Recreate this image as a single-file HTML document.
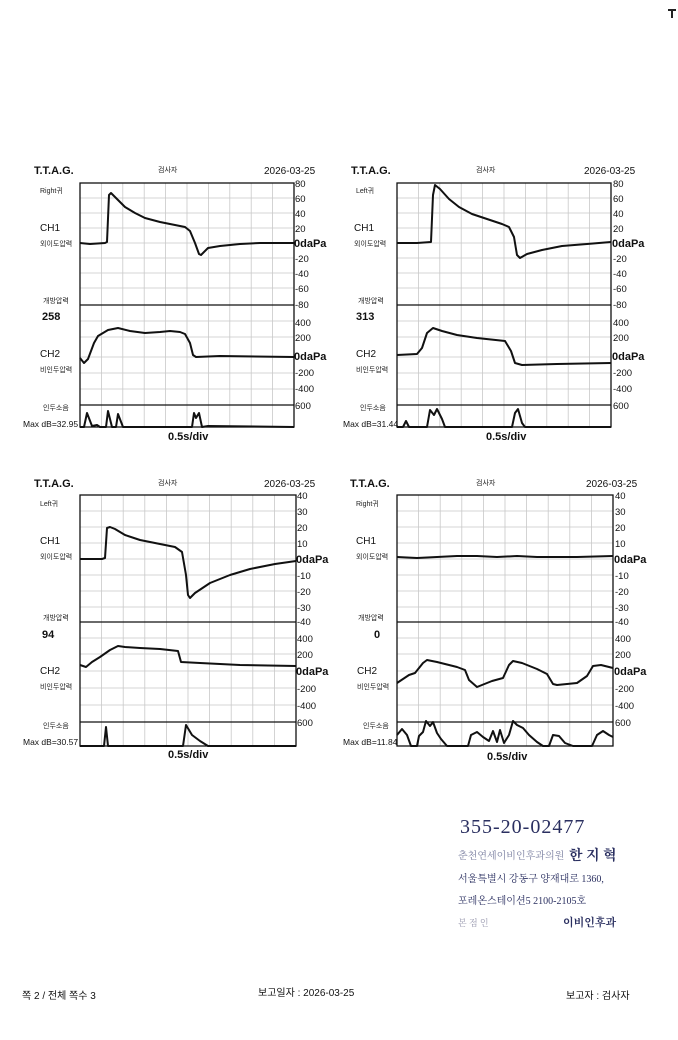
<!DOCTYPE html>
<html><head><meta charset="utf-8"><style>
body{margin:0;background:#fff;}
svg{display:block;font-family:"Liberation Sans","Noto Sans CJK KR",sans-serif;}
.g{stroke:#c8c8c8;stroke-width:0.8;fill:none}
.b{stroke:#111;stroke-width:1.3;fill:none}
.t{stroke:#111;stroke-width:2;fill:none;stroke-linejoin:round}
.s{font-size:10px;fill:#111}
.h{font-size:11px;font-weight:bold;fill:#111}
.k{font-size:7px;fill:#222}
.m{font-size:8.5px;fill:#111}
</style></head><body>
<svg width="678" height="1040" viewBox="0 0 678 1040">
<defs>
<g id="gridA">
<path class="g" d="M21.4 0V244M42.8 0V244M64.2 0V244M85.6 0V244M107 0V244M128.4 0V244M149.8 0V244M171.2 0V244M192.6 0V244"/>
<path class="g" d="M0 15H214M0 30H214M0 45H214M0 60H214M0 75H214M0 90H214M0 105H214M0 138H214M0 154H214M0 174H214M0 190H214M0 206H214"/>
<rect class="b" x="0" y="0" width="214" height="244"/>
<path class="b" d="M0 122H214M0 222H214"/>
</g>
<g id="gridB">
<path class="g" d="M21.6 0V251M43.2 0V251M64.8 0V251M86.4 0V251M108 0V251M129.6 0V251M151.2 0V251M172.8 0V251M194.4 0V251"/>
<path class="g" d="M0 16H216M0 32H216M0 48H216M0 64H216M0 80H216M0 96H216M0 112H216M0 143H216M0 159H216M0 176H216M0 193H216M0 210H216"/>
<rect class="b" x="0" y="0" width="216" height="251"/>
<path class="b" d="M0 127H216M0 227H216"/>
</g>
</defs>

<g transform="translate(80,183)">
<use href="#gridA"/>
<path class="t" d="M0 60 L10 61 L25 60 L27 59 L29 12 L31 10 L36 15 L45 24 L55 30 L65 35 L80 39 L95 42 L105 44 L110 48 L115 60 L119 71 L121 72 L128 65 L140 63 L160 61 L180 60 L214 60"/>
<path class="t" d="M0 175 L4 180 L8 176 L14 160 L18 153 L28 147 L38 145 L50 148 L65 150 L80 149 L90 148 L100 149 L105 151 L110 160 L113 172 L116 174 L140 173 L214 174"/>
<path class="t" d="M0 244 L4 244 L7 230 L12 243 L17 242 L20 244 L26 244 L28 228 L32 244 L36 244 L38 231 L43 244 L112 244 L114 230 L116 235 L119 230 L122 244 L128 243 L214 244"/>
</g>
<g transform="translate(397,183)">
<use href="#gridA"/>
<path class="t" d="M0 60 L20 60 L34 59 L36 12 L38 2 L43 6 L52 16 L62 24 L75 31 L90 36 L105 41 L112 44 L117 54 L120 72 L123 75 L130 71 L145 67 L165 63 L190 61 L214 59"/>
<path class="t" d="M0 172 L20 171 L25 165 L30 150 L36 145 L45 148 L60 152 L80 155 L108 158 L114 168 L118 180 L125 182 L160 181 L214 180"/>
<path class="t" d="M0 244 L6 244 L9 238 L12 244 L30 244 L33 227 L37 232 L40 226 L45 236 L48 244 L115 244 L118 230 L121 226 L125 240 L128 244 L214 244"/>
</g>
<g transform="translate(80,495)">
<use href="#gridB"/>
<path class="t" d="M0 64 L22 64 L25 63 L27 33 L30 32 L35 34 L45 40 L60 45 L80 49 L95 52 L102 57 L106 80 L108 100 L110 103 L115 98 L130 88 L150 80 L170 74 L195 69 L216 66"/>
<path class="t" d="M0 170 L6 172 L12 167 L20 162 L30 155 L38 151 L45 152 L60 153 L80 154 L98 156 L101 167 L120 168 L160 170 L216 171"/>
<path class="t" d="M0 251 L24 251 L26 232 L28 251 L103 251 L106 230 L112 240 L120 246 L128 251 L216 251"/>
</g>
<g transform="translate(397,495)">
<use href="#gridB"/>
<path class="t" d="M0 62 L20 63 L40 62 L60 61 L80 61 L100 62 L120 61 L140 62 L160 62 L180 62 L216 61"/>
<path class="t" d="M0 188 L12 180 L18 178 L26 168 L30 165 L40 167 L60 172 L68 175 L72 185 L80 192 L95 186 L106 183 L112 170 L116 166 L125 168 L140 174 L150 179 L156 189 L160 190 L180 188 L190 181 L196 171 L204 170 L216 173"/>
<path class="t" d="M0 240 L5 234 L10 240 L14 251 L20 251 L22 241 L26 237 L29 226 L33 231 L36 227 L40 238 L44 244 L50 251 L71 251 L74 240 L80 237 L86 242 L92 246 L96 236 L100 247 L103 235 L107 248 L112 240 L116 226 L120 230 L126 233 L132 240 L140 247 L146 251 L152 251 L156 240 L162 241 L168 248 L176 251 L195 251 L200 240 L206 236 L212 240 L216 242"/>
</g>

<g>
<text class="h" x="34" y="174">T.T.A.G.</text><text class="k" x="158" y="172">검사자</text><text class="s" x="264" y="174">2026-03-25</text>
<text class="k" x="40" y="193">Right귀</text><text class="s" x="40" y="231">CH1</text><text class="k" x="40" y="246">외이도압력</text>
<text class="k" x="43" y="303">개방압력</text><text class="h" x="42" y="320">258</text>
<text class="s" x="40" y="357">CH2</text><text class="k" x="40" y="372">비인두압력</text>
<text class="k" x="43" y="410">인두소음</text><text class="m" x="23" y="427">Max dB=32.95</text>
<text class="h" x="168" y="440">0.5s/div</text>
<g class="s" style="font-size:9.5px"><text x="295" y="187">80</text><text x="295" y="202">60</text><text x="295" y="217">40</text><text x="295" y="232">20</text><text x="294" y="247" style="font-size:11px;font-weight:bold">0daPa</text><text x="295" y="262">-20</text><text x="295" y="277">-40</text><text x="295" y="292">-60</text><text x="295" y="308">-80</text><text x="295" y="326">400</text><text x="295" y="341">200</text><text x="294" y="360" style="font-size:11px;font-weight:bold">0daPa</text><text x="295" y="376">-200</text><text x="295" y="392">-400</text><text x="295" y="409">600</text></g>
</g>
<g>
<text class="h" x="351" y="174">T.T.A.G.</text><text class="k" x="476" y="172">검사자</text><text class="s" x="584" y="174">2026-03-25</text>
<text class="k" x="356" y="193">Left귀</text><text class="s" x="354" y="231">CH1</text><text class="k" x="354" y="246">외이도압력</text>
<text class="k" x="358" y="303">개방압력</text><text class="h" x="356" y="320">313</text>
<text class="s" x="356" y="357">CH2</text><text class="k" x="356" y="372">비인두압력</text>
<text class="k" x="360" y="410">인두소음</text><text class="m" x="343" y="427">Max dB=31.44</text>
<text class="h" x="486" y="440">0.5s/div</text>
<g class="s" style="font-size:9.5px"><text x="613" y="187">80</text><text x="613" y="202">60</text><text x="613" y="217">40</text><text x="613" y="232">20</text><text x="612" y="247" style="font-size:11px;font-weight:bold">0daPa</text><text x="613" y="262">-20</text><text x="613" y="277">-40</text><text x="613" y="292">-60</text><text x="613" y="308">-80</text><text x="613" y="326">400</text><text x="613" y="341">200</text><text x="612" y="360" style="font-size:11px;font-weight:bold">0daPa</text><text x="613" y="376">-200</text><text x="613" y="392">-400</text><text x="613" y="409">600</text></g>
</g>
<g>
<text class="h" x="34" y="487">T.T.A.G.</text><text class="k" x="158" y="485">검사자</text><text class="s" x="264" y="487">2026-03-25</text>
<text class="k" x="40" y="506">Left귀</text><text class="s" x="40" y="544">CH1</text><text class="k" x="40" y="559">외이도압력</text>
<text class="k" x="43" y="620">개방압력</text><text class="h" x="42" y="638">94</text>
<text class="s" x="40" y="674">CH2</text><text class="k" x="40" y="689">비인두압력</text>
<text class="k" x="43" y="728">인두소음</text><text class="m" x="23" y="745">Max dB=30.57</text>
<text class="h" x="168" y="758">0.5s/div</text>
<g class="s" style="font-size:9.5px"><text x="297" y="499">40</text><text x="297" y="515">30</text><text x="297" y="531">20</text><text x="297" y="547">10</text><text x="296" y="563" style="font-size:11px;font-weight:bold">0daPa</text><text x="297" y="579">-10</text><text x="297" y="595">-20</text><text x="297" y="611">-30</text><text x="297" y="625">-40</text><text x="297" y="642">400</text><text x="297" y="658">200</text><text x="296" y="675" style="font-size:11px;font-weight:bold">0daPa</text><text x="297" y="692">-200</text><text x="297" y="709">-400</text><text x="297" y="726">600</text></g>
</g>
<g>
<text class="h" x="350" y="487">T.T.A.G.</text><text class="k" x="476" y="485">검사자</text><text class="s" x="586" y="487">2026-03-25</text>
<text class="k" x="356" y="506">Right귀</text><text class="s" x="356" y="544">CH1</text><text class="k" x="356" y="559">외이도압력</text>
<text class="k" x="358" y="620">개방압력</text><text class="h" x="374" y="638">0</text>
<text class="s" x="357" y="674">CH2</text><text class="k" x="357" y="689">비인두압력</text>
<text class="k" x="363" y="728">인두소음</text><text class="m" x="343" y="745">Max dB=11.84</text>
<text class="h" x="487" y="760">0.5s/div</text>
<g class="s" style="font-size:9.5px"><text x="615" y="499">40</text><text x="615" y="515">30</text><text x="615" y="531">20</text><text x="615" y="547">10</text><text x="614" y="563" style="font-size:11px;font-weight:bold">0daPa</text><text x="615" y="579">-10</text><text x="615" y="595">-20</text><text x="615" y="611">-30</text><text x="615" y="625">-40</text><text x="615" y="642">400</text><text x="615" y="658">200</text><text x="614" y="675" style="font-size:11px;font-weight:bold">0daPa</text><text x="615" y="692">-200</text><text x="615" y="709">-400</text><text x="615" y="726">600</text></g>
</g>

<g style="font-family:'Liberation Serif','Noto Serif CJK SC',serif" fill="#2a2f60">
<text x="460" y="833" style="font-size:20px;letter-spacing:1px">355-20-02477</text>
<text x="458" y="859" style="font-size:10px;fill:#7a7fa0">춘천연세이비인후과의원</text>
<text x="569" y="860" style="font-size:14px;font-weight:bold">한 지 혁</text>
<text x="458" y="882" style="font-size:10px">서울특별시 강동구 양재대로 1360,</text>
<text x="458" y="904" style="font-size:10px">포레온스테이션5 2100-2105호</text>
<text x="458" y="926" style="font-size:9px;fill:#9a9ab0">본 점 인</text>
<text x="563" y="926" style="font-size:11px;font-weight:bold">이비인후과</text>
</g>

<text class="s" x="22" y="999" style="font-size:10px">쪽 2 / 전체 쪽수 3</text>
<text class="s" x="258" y="996" style="font-size:10px">보고일자 : 2026-03-25</text>
<text class="s" x="566" y="999" style="font-size:10px">보고자 : 검사자</text>
<path d="M668 10H676M672 10V18" stroke="#222" stroke-width="2"/>
</svg>
</body></html>
